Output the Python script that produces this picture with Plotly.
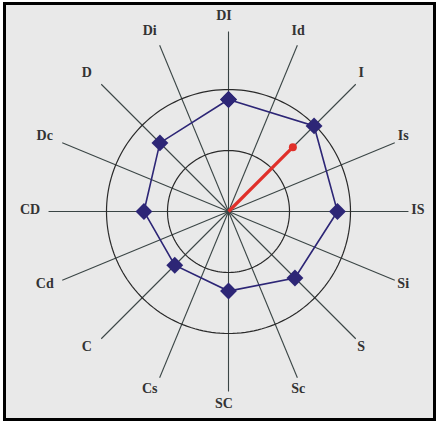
import plotly.graph_objects as go

# ---- data ----
spoke_labels = ["DI", "Id", "I", "Is", "IS", "Si", "S", "Sc",
                "SC", "Cs", "C", "Cd", "CD", "Dc", "D", "Di"]
spoke_angles = [90 - 22.5 * i for i in range(16)]

profile_labels = ["DI", "I", "IS", "S", "SC", "C", "CD", "D"]
profile_values = [91.8, 99.2, 89.3, 77.0, 65.2, 62.3, 69.3, 79.5]

circle_values = [50, 100]
spoke_length = 147.5
label_radius = 159

vector_angle = 45
vector_value = 74.6

# ---- styles ----
W, H = 436, 421
PX_PER_UNIT = 1.22
R_MAX = 150
R_MAX2 = 165
NAVY = "#2d2676"
RED = "#e0302a"
SPOKE = "#3a4545"
CIRC = "#2a2a2a"
TXT = "#333333"


def dom(cx, cy_top, r):
    cy = H - cy_top
    return dict(x=[(cx - r) / W, (cx + r) / W], y=[(cy - r) / H, (cy + r) / H])


angle_of = dict(zip(spoke_labels, spoke_angles))

fig = go.Figure()

# spokes
for lab, ang in zip(spoke_labels, spoke_angles):
    fig.add_trace(go.Scatterpolar(r=[0, spoke_length], theta=[ang, ang], mode="lines",
                                  line=dict(color=SPOKE, width=1.1), hoverinfo="skip",
                                  showlegend=False, subplot="polar"))

# circles
theta_c = [i for i in range(0, 361, 2)]
for cv in circle_values:
    fig.add_trace(go.Scatterpolar(r=[cv] * len(theta_c), theta=theta_c, mode="lines",
                                  line=dict(color=CIRC, width=1.2), hoverinfo="skip",
                                  showlegend=False, subplot="polar"))

# profile polygon
p_theta = [angle_of[l] for l in profile_labels]
fig.add_trace(go.Scatterpolar(r=profile_values + profile_values[:1],
                              theta=p_theta + p_theta[:1], mode="lines+markers",
                              line=dict(color=NAVY, width=1.6),
                              marker=dict(symbol="diamond", size=13, color=NAVY),
                              showlegend=False, subplot="polar", cliponaxis=False))

# red vector
fig.add_trace(go.Scatterpolar(r=[0, vector_value], theta=[vector_angle, vector_angle],
                              mode="lines", line=dict(color=RED, width=3.2),
                              showlegend=False, subplot="polar"))
fig.add_trace(go.Scatterpolar(r=[vector_value], theta=[vector_angle], mode="markers",
                              marker=dict(color=RED, size=8),
                              showlegend=False, subplot="polar"))

# labels
fig.add_trace(go.Scatterpolar(r=[label_radius] * 16, theta=spoke_angles, mode="text",
                              text=spoke_labels, textposition="middle center",
                              textfont=dict(family="Liberation Serif", size=14, color=TXT,
                                            weight="bold"),
                              showlegend=False, subplot="polar2", cliponaxis=False))


def hidden_polar(rmax):
    return dict(
        bgcolor="rgba(0,0,0,0)",
        radialaxis=dict(range=[0, rmax], visible=False, showgrid=False),
        angularaxis=dict(visible=False, showgrid=False, direction="counterclockwise",
                         rotation=0),
    )


fig.update_layout(
    width=W, height=H,
    margin=dict(l=0, r=0, t=0, b=0),
    paper_bgcolor="white",
    plot_bgcolor="rgba(0,0,0,0)",
    polar=dict(domain=dom(228.5, 211.5, R_MAX * PX_PER_UNIT), **hidden_polar(R_MAX)),
    polar2=dict(domain=dom(224, 210.3, R_MAX2 * PX_PER_UNIT), **hidden_polar(R_MAX2)),
    shapes=[dict(type="rect", xref="paper", yref="paper",
                 x0=4.5 / W, x1=434.5 / W, y0=1 - 419.5 / H, y1=1 - 3.5 / H,
                 line=dict(color="black", width=3), fillcolor="#e9e9e9", layer="below")],
)

fig.write_html("out.html", config={"displayModeBar": False},
               post_script="document.body.style.margin='0px';document.body.style.overflow='hidden';")
